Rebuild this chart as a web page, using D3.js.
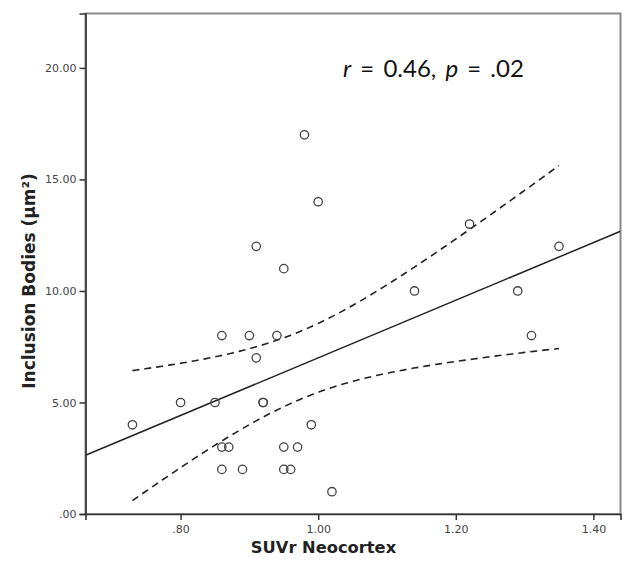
<!DOCTYPE html>
<html>
<head>
<meta charset="utf-8">
<script src="https://cdn.jsdelivr.net/npm/d3@7"></script>
<style>
  html, body { margin: 0; padding: 0; background: #fff; }
  svg { display: block; }
</style>
</head>
<body>
<svg id="chart" width="624" height="562"></svg>
<script>
// ---- data ----
const suvr = [0.73, 0.80, 0.85, 0.86, 0.86, 0.86, 0.87, 0.89, 0.90, 0.91, 0.91, 0.92, 0.92, 0.94,
              0.95, 0.95, 0.95, 0.96, 0.97, 0.98, 0.99, 1.00, 1.02, 1.14, 1.22, 1.29, 1.31, 1.35];
const inclusion = [4, 5, 5, 8, 3, 2, 3, 2, 8, 12, 7, 5, 5, 8,
                   11, 3, 2, 2, 3, 17, 4, 14, 1, 10, 13, 10, 8, 12];
const xTicks = [0.80, 1.00, 1.20, 1.40];
const yTicks = [0, 5, 10, 15, 20];
const xTitle = "SUVr Neocortex";
const yTitle = "Inclusion Bodies (µm²)";
const tCrit = 2.056; // t(0.975, df = 26)

// ---- layout ----
const svg = d3.select("#chart");
const L = 85.5, R = 620.5, T = 13.5, B = 514;
const x = d3.scaleLinear().domain([0.6618, 1.4394]).range([L, R]);
const y = d3.scaleLinear().domain([0, 22.44]).range([B, T]);

const fmt = v => { const s = d3.format(".2f")(v); return s.startsWith("0.") ? s.slice(1) : s; };

// frame
svg.append("rect").attr("x", L).attr("y", T).attr("width", R - L).attr("height", B - T)
  .attr("fill", "none").attr("stroke", "#8a8a8a").attr("stroke-width", 2);

// ---- regression and 95% CI of the mean ----
const pts = suvr.map((v, i) => ({ x: v, y: inclusion[i] }));
const n = pts.length;
const xbar = d3.mean(suvr), ybar = d3.mean(inclusion);
const sxx = d3.sum(suvr, v => (v - xbar) ** 2);
const sxy = d3.sum(pts, p => (p.x - xbar) * (p.y - ybar));
const slope = sxy / sxx, intercept = ybar - slope * xbar;
const sse = d3.sum(pts, p => (p.y - (intercept + slope * p.x)) ** 2);
const s = Math.sqrt(sse / (n - 2));
const fit = v => intercept + slope * v;
const half = v => tCrit * s * Math.sqrt(1 / n + (v - xbar) ** 2 / sxx);

const plot = svg.append("g");
svg.append("clipPath").attr("id", "clip").append("rect")
  .attr("x", L).attr("y", T).attr("width", R - L).attr("height", B - T);
plot.attr("clip-path", "url(#clip)");

const xd = x.domain();
plot.append("line")
  .attr("x1", x(xd[0])).attr("y1", y(fit(xd[0])))
  .attr("x2", x(xd[1])).attr("y2", y(fit(xd[1])))
  .attr("stroke", "#222").attr("stroke-width", 1.5);

const [xmin, xmax] = d3.extent(suvr);
const xs = d3.range(0, 101).map(i => xmin + (xmax - xmin) * i / 100);
const line = d3.line().x(d => x(d[0])).y(d => y(d[1]));
plot.append("path").attr("d", line(xs.map(v => [v, fit(v) + half(v)])))
  .attr("fill", "none").attr("stroke", "#222").attr("stroke-width", 1.6).attr("stroke-dasharray", "7,5");
plot.append("path").attr("d", line(xs.map(v => [v, fit(v) - half(v)])))
  .attr("fill", "none").attr("stroke", "#222").attr("stroke-width", 1.6).attr("stroke-dasharray", "7,5");

// points
plot.selectAll("circle").data(pts).join("circle")
  .attr("cx", d => x(d.x)).attr("cy", d => y(d.y)).attr("r", 4.2)
  .attr("fill", "none").attr("stroke", "#444").attr("stroke-width", 1.3);

// ---- axes ----
const xAxis = svg.append("g").attr("transform", `translate(0,${B})`)
  .call(d3.axisBottom(x).tickValues(xTicks).tickFormat(fmt).tickSize(6).tickPadding(5));
const yAxis = svg.append("g").attr("transform", `translate(${L},0)`)
  .call(d3.axisLeft(y).tickValues(yTicks).tickFormat(fmt).tickSize(6).tickPadding(3));
[xAxis, yAxis].forEach(g => {
  g.select(".domain").attr("stroke", "#333").attr("stroke-width", 1.6);
  g.selectAll(".tick line").attr("stroke", "#333").attr("stroke-width", 1.5);
  g.selectAll(".tick text").attr("fill", "#444")
    .style("font-family", "'DejaVu Sans', Verdana, sans-serif").style("font-size", "11px");
});

// titles
svg.append("text").attr("x", 323.5).attr("y", 553).attr("text-anchor", "middle")
  .style("font-family", "'DejaVu Sans', Verdana, sans-serif").style("font-weight", "bold")
  .style("font-size", "16.3px").attr("fill", "#222").text(xTitle);
svg.append("text").attr("transform", "translate(35,281) rotate(-90)").attr("text-anchor", "middle")
  .style("font-family", "'DejaVu Sans', Verdana, sans-serif").style("font-weight", "bold")
  .style("font-size", "17px").attr("fill", "#222").text(yTitle);

// annotation
const ann = svg.append("text").attr("x", 343).attr("y", 77)
  .style("font-family", "Lato, 'Open Sans', sans-serif").style("font-size", "24px")
  .style("word-spacing", "3px").attr("fill", "#111");
ann.append("tspan").style("font-style", "italic").text("r");
ann.append("tspan").text(" = 0.46, ");
ann.append("tspan").style("font-style", "italic").text("p");
ann.append("tspan").text(" =  .02");
</script>
</body>
</html>
